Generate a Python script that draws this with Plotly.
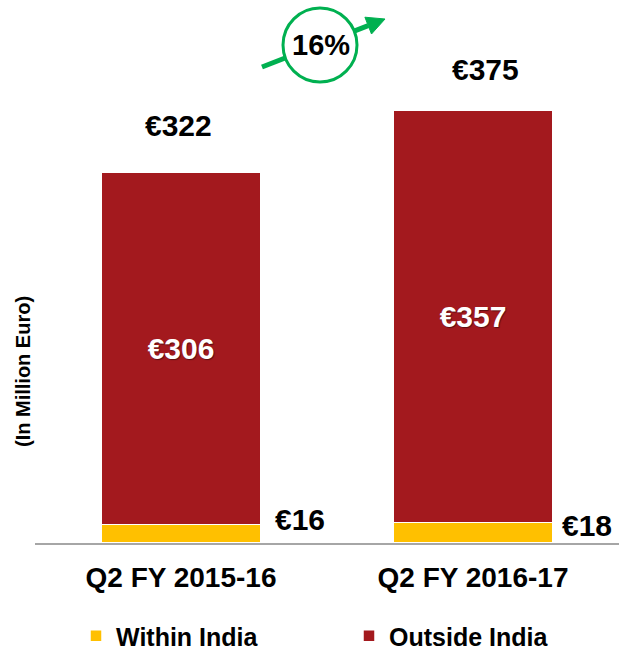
import plotly.graph_objects as go

categories = ["Q2 FY 2015-16", "Q2 FY 2016-17"]
within_india = [16, 18]
outside_india = [306, 357]
totals = [322, 375]
growth_label = "16%"

RED = "#A3191E"
YELLOW = "#FFC000"
GREEN = "#00B050"
FONT = "Liberation Sans, Arial, sans-serif"

W, H = 619, 652
ML, MR, MT, MB = 35, 0, 30, 109
PW, PH = W - ML - MR, H - MT - MB
YMAX = 445


def px(x):
    return (x - ML) / PW


def py(y):
    return (H - MB - y) / PH


fig = go.Figure()
fig.add_trace(go.Bar(
    x=categories, y=within_india, name="Within India",
    marker=dict(color=YELLOW, line=dict(color="white", width=1.5)),
    hoverinfo="skip",
))
fig.add_trace(go.Bar(
    x=categories, y=outside_india, name="Outside India",
    marker=dict(color=RED, line=dict(color="white", width=1.5)),
    text=[f"€{v}" for v in outside_india],
    textposition="inside", insidetextanchor="middle",
    textfont=dict(family=FONT, size=30, color="white",
                  weight="bold", shadow="1px 1px 1px rgba(0,0,0,0.45)"),
    hoverinfo="skip",
))

annotations = []
# totals above bars
tot_shift = [(-3, 46), (12, 41)]
for i, (c, t) in enumerate(zip(categories, totals)):
    annotations.append(dict(
        x=c, y=t, xref="x", yref="y", text=f"€{t}", showarrow=False,
        font=dict(family=FONT, size=30, color="black", weight="bold"),
        xanchor="center", yanchor="middle",
        xshift=tot_shift[i][0], yshift=tot_shift[i][1],
    ))
# within india labels to the right
w_shift = [(12, 5), (7, -3)]
for i, v in enumerate(within_india):
    annotations.append(dict(
        x=i + 0.274, y=v, xref="x", yref="y", text=f"€{v}", showarrow=False,
        font=dict(family=FONT, size=30, color="black", weight="bold"),
        xanchor="left", yanchor="middle",
        xshift=w_shift[i][0], yshift=w_shift[i][1],
    ))
# y-axis title
annotations.append(dict(
    x=px(23), y=py(372), xref="paper", yref="paper",
    text="(In Million Euro)", textangle=-90, showarrow=False,
    font=dict(family=FONT, size=20, color="black", weight="bold"),
    xanchor="center", yanchor="middle",
))
# growth label in circle
annotations.append(dict(
    x=px(321), y=py(45), xref="paper", yref="paper",
    text=growth_label, showarrow=False,
    font=dict(family=FONT, size=29, color="black", weight="bold"),
    xanchor="center", yanchor="middle",
))

# arrow geometry (pixels)
x0, y0 = 262, 67
tip = (385, 19)
bx, by = 368.2, 25.6
c1 = (371.5, 34.0)
c2 = (364.9, 17.2)
shapes = [
    dict(type="line", xref="paper", yref="paper",
         x0=px(x0), y0=py(y0), x1=px(bx), y1=py(by),
         line=dict(color=GREEN, width=5)),
    dict(type="path", xref="paper", yref="paper",
         path=f"M{px(tip[0])},{py(tip[1])} L{px(c1[0])},{py(c1[1])} L{px(c2[0])},{py(c2[1])} Z",
         fillcolor=GREEN, line=dict(color=GREEN, width=1)),
    dict(type="circle", xref="paper", yref="paper",
         x0=px(320 - 37), x1=px(320 + 37), y0=py(45 + 37), y1=py(45 - 37),
         fillcolor="white", line=dict(color=GREEN, width=3)),
]

fig.update_layout(
    width=W, height=H,
    margin=dict(l=ML, r=MR, t=MT, b=MB, pad=0, autoexpand=False),
    barmode="stack", bargap=0.452,
    plot_bgcolor="white", paper_bgcolor="white",
    font=dict(family=FONT, color="black"),
    xaxis=dict(
        showline=True, linecolor="#A6A6A6", linewidth=2,
        showgrid=False, zeroline=False, ticks="",
        tickfont=dict(family=FONT, size=28, color="black", weight="bold"),
        ticklabelstandoff=8, range=[-0.5, 1.5], fixedrange=True,
        automargin=False,
    ),
    yaxis=dict(visible=False, range=[0, YMAX], fixedrange=True, automargin=False),
    showlegend=True,
    legend=dict(
        orientation="h", x=px(76), xanchor="left", y=py(636), yanchor="middle",
        font=dict(family=FONT, size=25, color="black", weight="bold"),
        entrywidth=228, entrywidthmode="pixels", itemwidth=30,
        traceorder="normal", bgcolor="rgba(0,0,0,0)",
    ),
    annotations=annotations,
    shapes=shapes,
)

fig.write_html("out.html", config={"displayModeBar": False},
               post_script="document.body.style.margin='0';")
